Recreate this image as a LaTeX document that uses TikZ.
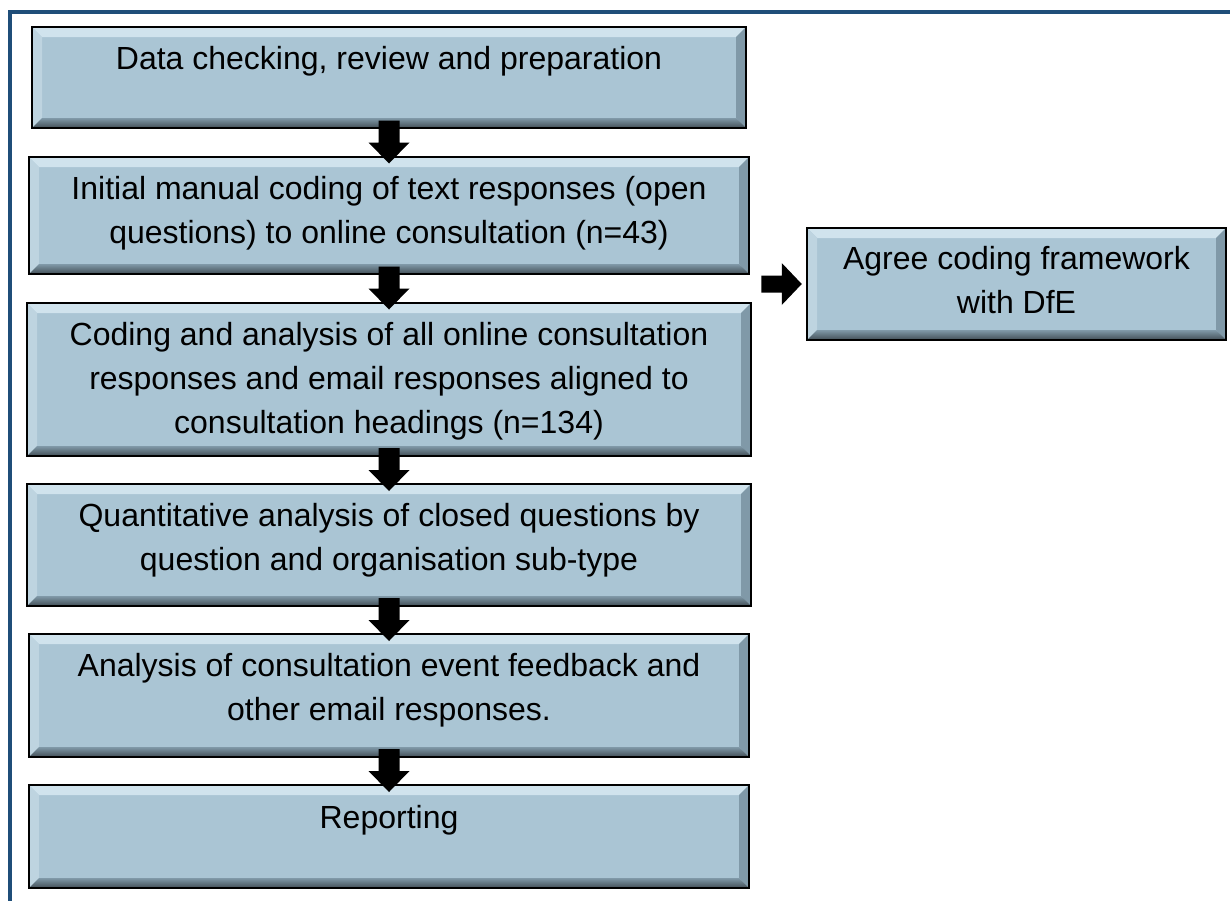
\documentclass[tikz,border=0pt]{standalone}
\usepackage{fontspec}
\setmainfont{Liberation Sans}
\usetikzlibrary{calc}
\definecolor{frameblue}{RGB}{31,78,121}
\definecolor{boxblue}{RGB}{170,197,212}
\definecolor{bevlight}{RGB}{208,227,237}
\definecolor{bevside}{RGB}{190,212,224}
\definecolor{bevdark}{RGB}{128,153,168}
\definecolor{bevshadow}{RGB}{66,78,86}

\begin{document}
\begin{tikzpicture}[x=1pt,y=-1pt,
    stage/.style={draw=black,line width=2.5pt,fill=boxblue,inner sep=0pt,bevel},
    stagetext/.style={anchor=north,align=center,inner sep=0pt,font=\fontsize{32}{44}\selectfont},
    bevel/.style={path picture={
      \coordinate (nw) at (path picture bounding box.north west);
      \coordinate (ne) at (path picture bounding box.north east);
      \coordinate (sw) at (path picture bounding box.south west);
      \coordinate (se) at (path picture bounding box.south east);
      \fill[bevlight] (nw) -- (ne) -- ($(ne)+(-10,10)$) -- ($(nw)+(10,10)$) -- cycle;
      \fill[bevside] (nw) -- (sw) -- ($(sw)+(10,-10)$) -- ($(nw)+(10,10)$) -- cycle;
      \fill[bevdark] (ne) -- (se) -- ($(se)+(-10,-10)$) -- ($(ne)+(-10,10)$) -- cycle;
      \shade[top color=bevdark,bottom color=bevshadow] (sw) -- (se) -- ($(se)+(-10,-10)$) -- ($(sw)+(10,-10)$) -- cycle;
    }}]
    \useasboundingbox (0,0) rectangle (1230,900);
    \draw[frameblue,line width=4] (10,905) -- (10,12) -- (1235,12);

    \node[stage,minimum width=714pt,minimum height=101pt] (b1) at (389,77.5) {};
    \node[stage,minimum width=720pt,minimum height=117pt] (b2) at (389,215.5) {};
    \node[stage,minimum width=724pt,minimum height=153pt] (b3) at (389,379.5) {};
    \node[stage,minimum width=724pt,minimum height=122pt] (b4) at (389,545) {};
    \node[stage,minimum width=720pt,minimum height=123pt] (b5) at (389,695.5) {};
    \node[stage,minimum width=720pt,minimum height=103pt] (b6) at (389,836.5) {};
    \node[stage,minimum width=419pt,minimum height=112pt] (agree) at (1016.5,284) {};

    \node[stagetext] (t1) at ($(b1.north)+(0,20)$) {Data checking, review and preparation};
    \node[stagetext] (t2) at ($(b2.north)+(0,20)$) {Initial manual coding of text responses (open\\questions) to online consultation (n=43)};
    \node[stagetext] (t3) at ($(b3.north)+(0,20)$) {Coding and analysis of all online consultation\\responses and email responses aligned to\\consultation headings (n=134)};
    \node[stagetext] (t4) at ($(b4.north)+(0,20)$) {Quantitative analysis of closed questions by\\question and organisation sub-type};
    \node[stagetext] (t5) at ($(b5.north)+(0,20)$) {Analysis of consultation event feedback and\\other email responses.};
    \node[stagetext] (t6) at ($(b6.north)+(0,21)$) {Reporting};
    \node[stagetext] (ta) at ($(agree.north)+(0,19)$) {Agree coding framework\\with DfE};

    \foreach \a/\b in {b1/b2,b2/b3,b3/b4,b4/b5,b5/b6}
      \fill ($(\a.south)!.5!(\b.north)+(-10.5,-22)$) -- ($(\a.south)!.5!(\b.north)+(-10.5,0)$) -- ($(\a.south)!.5!(\b.north)+(-20.5,0)$) -- ($(\a.south)!.5!(\b.north)+(0,21)$)
        -- ($(\a.south)!.5!(\b.north)+(20.5,0)$) -- ($(\a.south)!.5!(\b.north)+(10.5,0)$) -- ($(\a.south)!.5!(\b.north)+(10.5,-22)$) -- cycle;
    \coordinate (go) at ($(b2.east |- agree.west)+(11,0)$);
    \fill (go) ++(0,-8.5) -- ($(agree.west)+(-24,-8.5)$) -- ($(agree.west)+(-24,-21)$) -- ($(agree.west)+(-4,0)$) -- ($(agree.west)+(-24,21)$) -- ($(agree.west)+(-24,8.5)$) -- ($(go)+(0,8.5)$) -- cycle;
  \end{tikzpicture}
\end{document}
